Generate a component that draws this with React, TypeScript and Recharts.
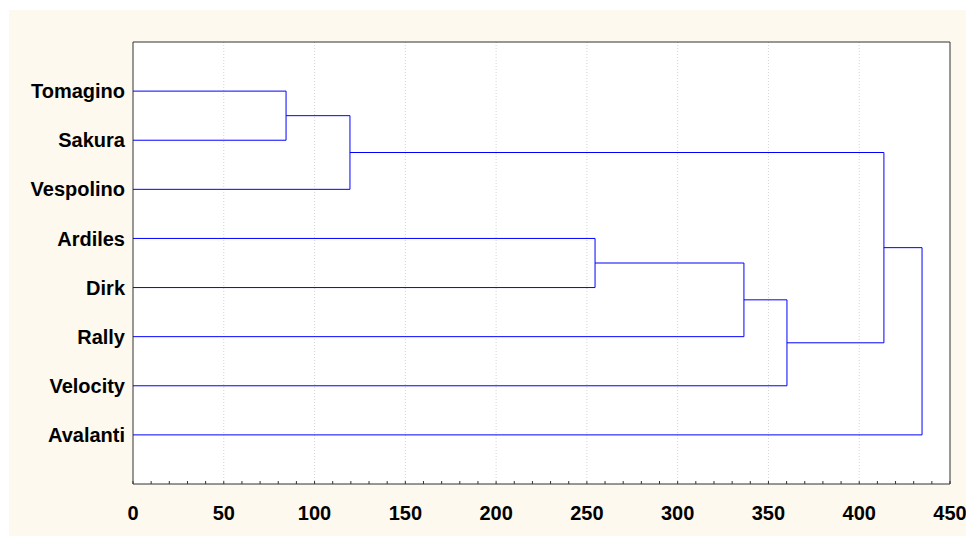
import React from 'react';
import { ScatterChart, Scatter, XAxis, YAxis, CartesianGrid, ReferenceLine } from 'recharts';

const leaves = ['Tomagino', 'Sakura', 'Vespolino', 'Ardiles', 'Dirk', 'Rally', 'Velocity', 'Avalanti'];
// clusters: 0..7 are leaves, 8.. are merges in order
const mergeLeft = [0, 8, 3, 10, 11, 9, 13];
const mergeRight = [1, 2, 4, 5, 6, 12, 7];
const mergeHeight = [84.3, 119.5, 254.5, 336.5, 360.2, 413.6, 434.6];

const majorTicks = [0, 50, 100, 150, 200, 250, 300, 350, 400, 450];
const gridValues = [50, 100, 150, 200, 250, 300, 350, 400];
const minorTicks = Array.from({ length: 46 }, (_, i) => i * 10);
const leafTicks = [1, 2, 3, 4, 5, 6, 7, 8];

const nodeX: number[] = leaves.map(() => 0);
const nodeY: number[] = leaves.map((_, i) => i + 1);
const links = mergeHeight.map((h, k) => {
  const a = mergeLeft[k];
  const b = mergeRight[k];
  const pts = [
    { x: nodeX[a], y: nodeY[a] },
    { x: h, y: nodeY[a] },
    { x: h, y: nodeY[b] },
    { x: nodeX[b], y: nodeY[b] },
  ];
  nodeX.push(h);
  nodeY.push((nodeY[a] + nodeY[b]) / 2);
  return pts;
});

const tickStyle = { fill: '#000', fontSize: 20, fontWeight: 'bold', fontFamily: 'Liberation Sans, Arial, sans-serif' };
const axisStroke = { stroke: '#333', strokeWidth: 1 };
const noShape = () => <g />;

export default function App() {
  return (
    <div style={{ position: 'relative', left: 1, top: 2, width: 966, height: 528, background: '#fdf9ee' }}>
      <ScatterChart width={966} height={528} margin={{ top: 2, right: 0, bottom: 0, left: 0 }}>
        <CartesianGrid horizontal={false} vertical={false} fill="#ffffff" fillOpacity={1} />
        {gridValues.map((v) => (
          <ReferenceLine key={v} x={v} xAxisId={0} yAxisId={0} stroke="#d4d4d4" strokeDasharray="1 2" />
        ))}
        <XAxis
          xAxisId={0}
          dataKey="x"
          type="number"
          domain={[0, 450]}
          ticks={minorTicks}
          interval={0}
          tickFormatter={(v: number) => (v % 50 === 0 ? String(v) : '')}
          tickSize={-3}
          tickMargin={25}
          height={54}
          axisLine={axisStroke}
          tickLine={{ stroke: '#333' }}
          tick={tickStyle}
          allowDataOverflow
        />
        <XAxis
          xAxisId="top"
          orientation="top"
          type="number"
          domain={[0, 450]}
          ticks={majorTicks}
          interval={0}
          tickFormatter={() => ''}
          tickSize={-4}
          height={30}
          axisLine={axisStroke}
          tickLine={{ stroke: '#333' }}
        />
        <YAxis
          yAxisId={0}
          dataKey="y"
          type="number"
          domain={[0, 9]}
          reversed
          ticks={leafTicks}
          interval={0}
          tickFormatter={(v: number) => leaves[v - 1] ?? ''}
          width={124}
          tickLine={false}
          axisLine={axisStroke}
          tick={tickStyle}
        />
        <YAxis
          yAxisId="right"
          orientation="right"
          type="number"
          domain={[0, 9]}
          reversed
          ticks={leafTicks}
          interval={0}
          tickFormatter={() => ''}
          tickSize={-4}
          width={25}
          axisLine={axisStroke}
          tickLine={{ stroke: '#333' }}
        />
        {links.map((pts, i) => (
          <Scatter
            key={i}
            data={pts}
            xAxisId={0}
            yAxisId={0}
            line={{ stroke: '#0000ff', strokeWidth: 1 }}
            lineType="joint"
            shape={noShape}
            isAnimationActive={false}
          />
        ))}
      </ScatterChart>
    </div>
  );
}
